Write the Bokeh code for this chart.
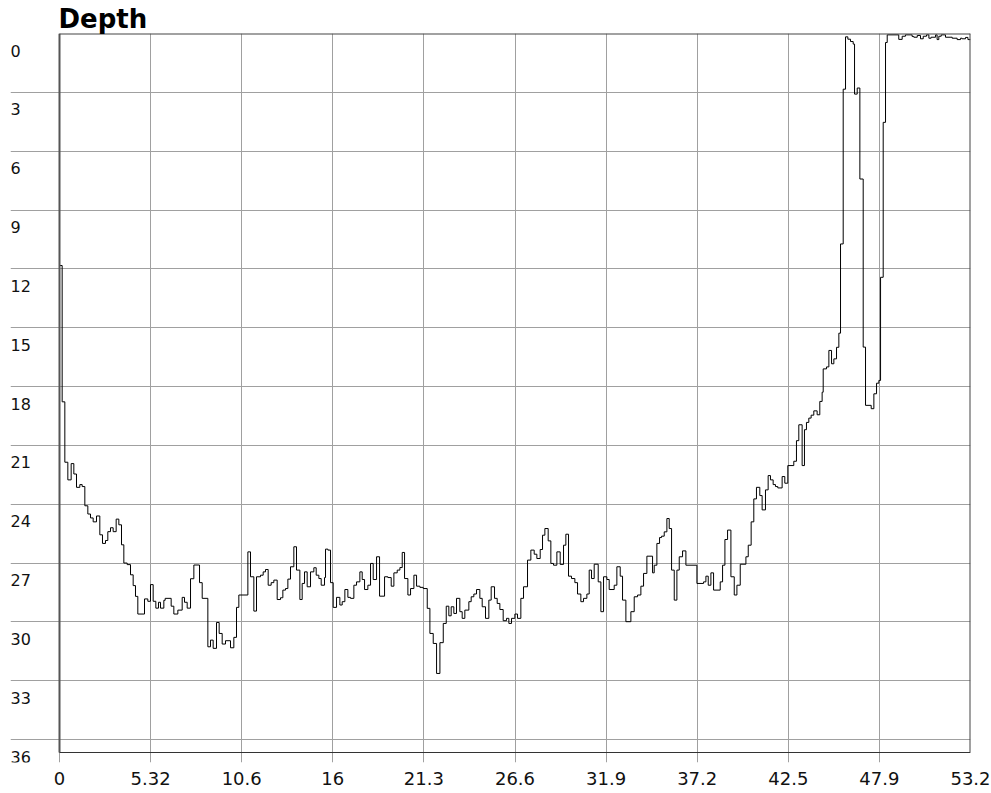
from bokeh.plotting import figure
from bokeh.models import Range1d, FixedTicker
from bokeh.core.properties import value
from bokeh.embed import file_html
from bokeh.resources import INLINE

# ---- data (minutes, metres): step changes ----
time_min = [
    0.000, 0.156, 0.312, 0.487, 0.681, 0.837, 0.993, 1.188, 1.324, 1.480,
    1.655, 1.810, 1.966, 2.161, 2.355, 2.511, 2.686, 2.822, 2.978, 3.134,
    3.309, 3.465, 3.621, 3.757, 3.952, 4.147, 4.302, 4.438, 4.574, 4.964,
    5.158, 5.314, 5.470, 5.626, 5.781, 5.898, 6.093, 6.171, 6.521, 6.677,
    6.911, 7.164, 7.300, 7.456, 7.651, 7.846, 8.177, 8.333, 8.663, 8.818,
    8.974, 9.169, 9.324, 9.500, 9.694, 9.986, 10.181, 10.337, 10.473, 11.000,
    11.154, 11.349, 11.505, 11.738, 11.894, 12.030, 12.186, 12.361, 12.517, 12.712,
    12.907, 13.043, 13.199, 13.336, 13.490, 13.685, 13.841, 14.036, 14.172, 14.309,
    14.464, 14.659, 14.853, 14.990, 15.146, 15.282, 15.477, 15.535, 15.672, 15.827,
    15.983, 16.178, 16.373, 16.509, 16.665, 16.840, 16.996, 17.190, 17.346, 17.541,
    17.677, 17.814, 18.008, 18.164, 18.320, 18.515, 18.690, 18.982, 19.177, 19.371,
    19.527, 19.722, 19.878, 20.014, 20.150, 20.345, 20.501, 20.696, 20.851, 21.046,
    21.241, 21.475, 21.630, 21.825, 22.020, 22.215, 22.410, 22.585, 22.736, 22.873,
    23.028, 23.184, 23.379, 23.515, 23.671, 23.905, 24.041, 24.197, 24.353, 24.547,
    24.684, 24.878, 25.073, 25.209, 25.404, 25.560, 25.716, 25.910, 26.105, 26.241,
    26.397, 26.592, 26.747, 26.942, 27.098, 27.331, 27.526, 27.721, 27.876, 28.071,
    28.207, 28.344, 28.538, 28.694, 28.850, 29.045, 29.239, 29.434, 29.570, 29.726,
    29.901, 30.096, 30.252, 30.446, 30.602, 30.797, 30.933, 31.069, 31.225, 31.459,
    31.614, 31.770, 31.965, 32.101, 32.393, 32.549, 32.744, 32.880, 33.075, 33.367,
    33.562, 33.757, 33.951, 34.107, 34.302, 34.633, 34.730, 34.886, 35.042, 35.158,
    35.314, 35.470, 35.606, 35.743, 35.899, 36.054, 36.191, 36.385, 36.580, 37.223,
    37.612, 37.748, 37.885, 38.040, 38.196, 38.585, 38.722, 38.858, 39.014, 39.209,
    39.403, 39.559, 39.754, 40.085, 40.221, 40.390, 40.546, 40.701, 40.896, 41.032,
    41.227, 41.383, 41.519, 41.675, 41.811, 41.947, 42.200, 42.356, 42.531, 42.881,
    43.037, 43.173, 43.368, 43.504, 43.621, 43.757, 43.893, 44.049, 44.244, 44.400,
    44.536, 44.598, 44.792, 44.929, 45.085, 45.220, 45.376, 45.512, 45.610, 45.766,
    45.902, 46.038, 46.194, 46.350, 46.428, 46.584, 46.739, 46.934, 47.070, 47.401,
    47.557, 47.713, 47.849, 47.947, 48.102, 48.238, 48.336, 49.010, 49.210, 49.400,
    49.790, 49.890, 50.090, 50.280, 50.440, 50.630, 50.770, 50.900, 51.160, 51.250,
    51.350, 51.490, 51.740, 52.130, 52.420, 52.620, 52.710, 52.910, 53.050,
]
depth_m = [
    11.83, 18.78, 21.86, 22.76, 21.93, 22.46, 23.14, 23.00, 23.10, 24.08,
    24.50, 24.70, 24.90, 24.60, 25.56, 26.00, 25.85, 25.40, 25.20, 25.40,
    24.76, 25.05, 26.07, 27.00, 27.08, 27.60, 28.15, 28.70, 29.60, 28.83,
    28.95, 28.10, 28.95, 29.30, 29.00, 29.30, 28.90, 28.80, 29.20, 29.60,
    29.40, 28.75, 29.00, 29.30, 27.80, 27.10, 28.00, 28.80, 31.27, 30.93,
    31.35, 30.03, 30.59, 31.13, 30.96, 31.32, 30.79, 29.26, 28.63, 26.43,
    27.70, 29.45, 27.70, 27.62, 27.45, 27.33, 28.13, 28.00, 27.87, 28.86,
    28.77, 28.38, 28.30, 27.82, 27.19, 26.17, 27.36, 28.86, 28.04, 27.45,
    28.21, 27.45, 27.24, 27.62, 27.79, 28.13, 27.74, 26.29, 26.34, 28.00,
    29.26, 28.75, 29.14, 28.97, 28.35, 28.75, 28.80, 28.13, 27.96, 27.45,
    27.84, 28.35, 28.13, 27.02, 27.84, 26.68, 28.69, 27.70, 27.74, 28.18,
    27.50, 27.36, 27.23, 26.46, 27.79, 28.63, 28.30, 27.62, 28.18, 28.24,
    28.30, 29.31, 30.59, 31.10, 32.63, 31.06, 30.08, 29.20, 29.69, 29.23,
    29.57, 28.80, 29.48, 29.82, 29.40, 28.97, 28.72, 28.58, 28.35, 28.80,
    29.23, 29.82, 28.89, 28.21, 28.80, 29.06, 29.37, 29.94, 29.82, 30.08,
    29.82, 29.60, 29.82, 28.80, 28.21, 26.85, 26.34, 26.55, 26.77, 26.31,
    25.58, 25.24, 25.87, 27.02, 27.11, 26.43, 27.07, 26.09, 25.53, 27.67,
    27.79, 28.00, 28.58, 28.97, 28.80, 28.58, 27.36, 27.79, 27.06, 27.96,
    29.48, 27.70, 27.84, 28.35, 28.13, 27.19, 27.67, 28.89, 29.99, 29.48,
    28.72, 28.63, 28.18, 27.53, 26.65, 27.50, 27.11, 26.00, 25.70, 25.63,
    25.41, 24.73, 25.24, 27.36, 28.89, 27.36, 26.68, 26.38, 27.11, 28.04,
    27.96, 27.67, 28.13, 27.50, 28.38, 27.96, 27.11, 25.80, 25.32, 27.70,
    28.63, 28.13, 27.06, 26.68, 26.09, 24.90, 23.73, 23.14, 23.56, 24.29,
    23.27, 22.54, 22.76, 23.00, 23.10, 23.17, 22.59, 22.93, 22.03, 21.81,
    20.76, 19.95, 22.03, 20.20, 19.83, 19.61, 19.46, 19.24, 19.44, 18.76,
    18.29, 17.10, 17.00, 16.16, 16.84, 16.59, 16.00, 15.28, 10.73, 2.84,
    0.17, 0.29, 0.41, 0.54, 3.09, 2.78, 7.42, 15.99, 18.96, 19.13,
    18.37, 17.83, 17.69, 12.43, 4.53, 0.46, 0.07, 0.30, 0.14, 0.07,
    0.15, 0.19, 0.10, 0.27, 0.14, 0.07, 0.24, 0.19, 0.07, 0.31,
    0.14, 0.07, 0.19, 0.24, 0.31, 0.24, 0.27, 0.20, 0.31,
]
t_start = 0.0
t_end = 53.2
depth_axis_max = 36.66

x_ticks = [0, 5.32, 10.64, 15.96, 21.28, 26.6, 31.92, 37.24, 42.56, 47.88, 53.2]
x_tick_labels = ["0", "5.32", "10.6", "16", "21.3", "26.6", "31.9", "37.2", "42.5", "47.9", "53.2"]
y_ticks = [0, 3, 6, 9, 12, 15, 18, 21, 24, 27, 30, 33, 36]
y_tick_labels = ["0", "3", "6", "9", "12", "15", "18", "21", "24", "27", "30", "33", "36"]
title_text = "Depth"

FONT = "DejaVu Sans"
GRID = "#a0a0a0"

# ---- layout (pixels) ----
W, H = 991, 793
AXIS_X = 59          # where the depth axis line sits
LEFT_PAD = 10        # grid lines / labels start here
TOP = 33
PLOT_BOTTOM = 752    # bottom axis line
TICK_LEN = 10        # grid lines hang below the axis
RIGHT = 970
plot_w = RIGHT - AXIS_X
plot_h = PLOT_BOTTOM - TOP
x_lo = t_start - (AXIS_X - LEFT_PAD) * (t_end - t_start) / plot_w
y_lo = depth_axis_max * (plot_h + TICK_LEN) / plot_h

p = figure(width=W, height=H, title=title_text, toolbar_location=None, output_backend="svg",
           x_range=Range1d(x_lo, t_end), y_range=Range1d(y_lo, 0),
           min_border_left=LEFT_PAD, min_border_right=W - RIGHT,
           min_border_top=TOP, min_border_bottom=H - PLOT_BOTTOM - TICK_LEN)
p.background_fill_color = "white"
p.border_fill_color = "white"
p.outline_line_color = None

p.title.text_font = FONT
p.title.text_font_size = "26px"
p.title.text_font_style = "bold"
p.title.text_color = "#000000"
p.title.align = "left"
p.title.standoff = 0
p.title.offset = AXIS_X - LEFT_PAD - 1

p.yaxis.visible = False
p.xaxis.ticker = FixedTicker(ticks=x_ticks)
p.xaxis.major_label_overrides = dict(zip(x_ticks, x_tick_labels))
p.xaxis.axis_line_color = None
p.xaxis.major_tick_line_color = None
p.xaxis.minor_tick_line_color = None
p.xaxis.major_tick_in = 0
p.xaxis.major_tick_out = 0
p.xaxis.major_label_standoff = 9
p.xaxis.major_label_text_font = FONT
p.xaxis.major_label_text_font_size = "18px"
p.xaxis.major_label_text_color = "#111111"

p.xgrid.ticker = FixedTicker(ticks=x_ticks)
p.ygrid.ticker = FixedTicker(ticks=y_ticks)
p.grid.grid_line_color = GRID
p.grid.grid_line_width = 1

# depth trace
t_plot = time_min + [t_end]
d_plot = depth_m + [depth_m[-1]]
p.step(x=t_plot, y=d_plot, mode="after", line_color="#000000", line_width=1)

# plot-area border: left axis, top, right, bottom
p.segment(x0=[t_start], y0=[0], x1=[t_start], y1=[depth_axis_max], line_color="#555555", line_width=2)
p.segment(x0=[t_start, t_end], y0=[0, 0], x1=[t_end, t_end], y1=[0, depth_axis_max],
          line_color="#444444", line_width=2)
p.segment(x0=[t_start], y0=[depth_axis_max], x1=[t_end], y1=[depth_axis_max],
          line_color="#333333", line_width=1)

# depth labels: left-aligned, just under each grid line
p.text(x=[x_lo] * len(y_ticks), y=y_ticks, text=y_tick_labels, x_offset=0, y_offset=17,
       text_align="left", text_baseline="alphabetic",
       text_font=value(FONT), text_font_size="16px", text_color="#111111")

open("out.html", "w").write(file_html(p, INLINE))
